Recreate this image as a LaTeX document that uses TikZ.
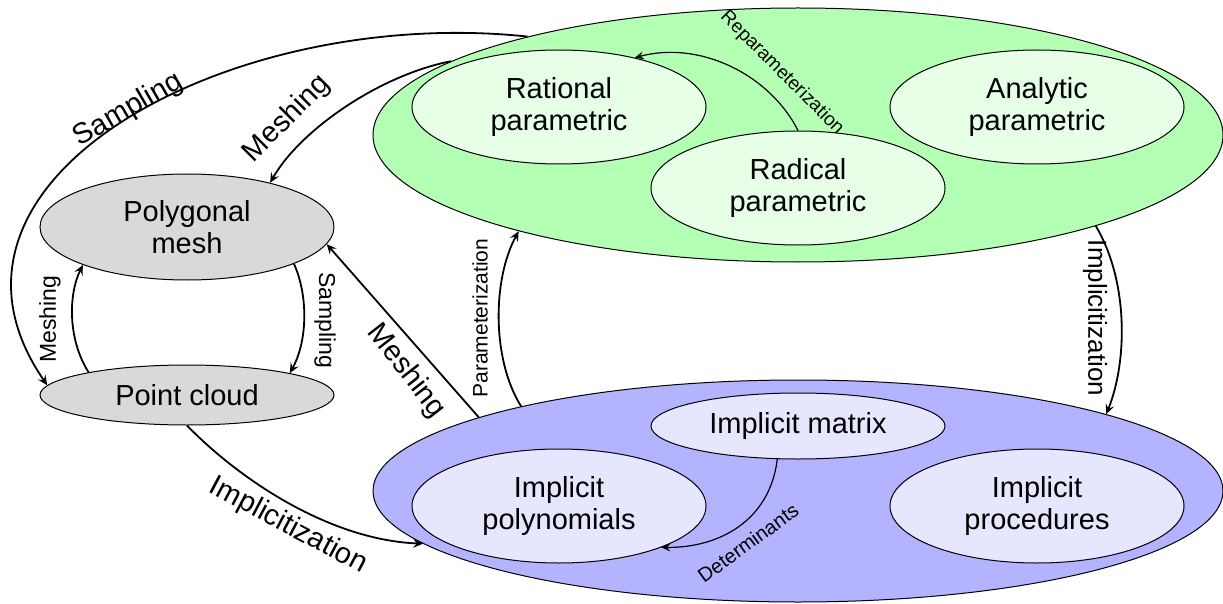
\documentclass[tikz,border=0pt]{standalone}
\usepackage{fontspec}
\setmainfont{Liberation Sans}
\usetikzlibrary{arrows.meta,shapes.geometric}
\definecolor{gOut}{HTML}{B3FFB3}
\definecolor{gIn}{HTML}{E6FFE6}
\definecolor{bOut}{HTML}{B3B3FF}
\definecolor{bIn}{HTML}{E6E6FF}
\definecolor{grayN}{HTML}{D9D9D9}
\tikzset{
  ell/.style={ellipse, draw=black, line width=1pt, inner sep=0pt, align=center,
    font=\fontsize{29}{32}\selectfont},
  conn/.style={line width=1.8pt, -{Stealth[length=10pt,width=9pt,inset=4pt]}},
  thinconn/.style={line width=1.2pt, -{Stealth[length=9pt,width=8pt,inset=3.5pt]}},
  bigl/.style={font=\fontsize{29}{32}\selectfont, inner sep=0pt},
  midl/.style={font=\fontsize{23}{26}\selectfont, inner sep=0pt},
  smalll/.style={font=\fontsize{19}{22}\selectfont, inner sep=0pt},
}
\begin{document}
\begin{tikzpicture}[x=1pt,y=-1pt]
\useasboundingbox (0,0) rectangle (1223,604);
% big containers
\node[ell, fill=gOut, minimum width=850pt, minimum height=254pt] (green) at (798,135) {};
\node[ell, fill=bOut, minimum width=850pt, minimum height=222pt] (blue) at (798,491) {};
% inner nodes
\node[ell, fill=gIn, minimum width=294pt, minimum height=114pt] (rational) at (559,107) {Rational\\parametric};
\node[ell, fill=gIn, minimum width=294pt, minimum height=114pt] (analytic) at (1037,107) {Analytic\\parametric};
\node[ell, fill=gIn, minimum width=294pt, minimum height=114pt] (radical) at (798,188) {Radical\\parametric};
\node[ell, fill=bIn, minimum width=294pt, minimum height=66pt] (matrix) at (798,426) {Implicit matrix};
\node[ell, fill=bIn, minimum width=294pt, minimum height=114pt] (poly) at (559,506) {Implicit\\polynomials};
\node[ell, fill=bIn, minimum width=294pt, minimum height=114pt] (proc) at (1037,506) {Implicit\\procedures};
\node[ell, fill=grayN, minimum width=294pt, minimum height=106pt] (mesh) at (187,227) {Polygonal\\mesh};
\node[ell, fill=grayN, minimum width=294pt, minimum height=60pt] (cloud) at (187,395) {Point cloud};

% connectors
\draw[conn] (green.160.8) .. controls (230,5) and (-95,180) .. (cloud.176);
\draw[conn] (green.168.8) .. controls (380,75) and (300,130) .. (mesh.28.5);
\draw[conn] (cloud.167.6) .. controls (68,340) and (68,295) .. (mesh.200.9);
\draw[conn] (mesh.341.1) .. controls (308,295) and (308,340) .. (cloud.12.4);
\draw[conn] (blue.167.2) -- (mesh.353.7);
\draw[conn] (blue.163) .. controls (492,360) and (492,280) .. (green.199.1);
\draw[conn] (green.343.4) .. controls (1128,280) and (1128,360) .. (blue.14.5);
\draw[conn] (cloud.270) .. controls (240,480) and (330,540) .. (blue.188.8);
\draw[thinconn] (radical.90) .. controls (770,75) and (700,40) .. (rational.33.5);
\draw[thinconn] (matrix.238.3) .. controls (770,520) and (720,548) .. (poly.338.9);

% labels
\node[bigl, rotate=30] (lsamp) at (128,110) {Sampling};
\node[bigl, rotate=45] (lmesh1) at (287,119) {Meshing};
\node[bigl, rotate=-52] (lmesh2) at (406,371) {Meshing};
\node[bigl, rotate=-28] (limpl1) at (288,526) {Implicitization};
\node[midl, rotate=90] (lmesh3) at (50,319) {Meshing};
\node[midl, rotate=-90] (lsamp2) at (325,320) {Sampling};
\node[font=\fontsize{21}{24}\selectfont, inner sep=0pt, rotate=90] (lparam) at (480,318) {Parameterization};
\node[font=\fontsize{26}{28}\selectfont, inner sep=0pt, rotate=-90] (limpl2) at (1095,318) {Implicitization};
\node[smalll, rotate=-45] (lrep) at (782,73) {Reparameterization};
\node[font=\fontsize{20}{22}\selectfont, inner sep=0pt, rotate=36] (ldet) at (748,543) {Determinants};
\end{tikzpicture}
\end{document}
